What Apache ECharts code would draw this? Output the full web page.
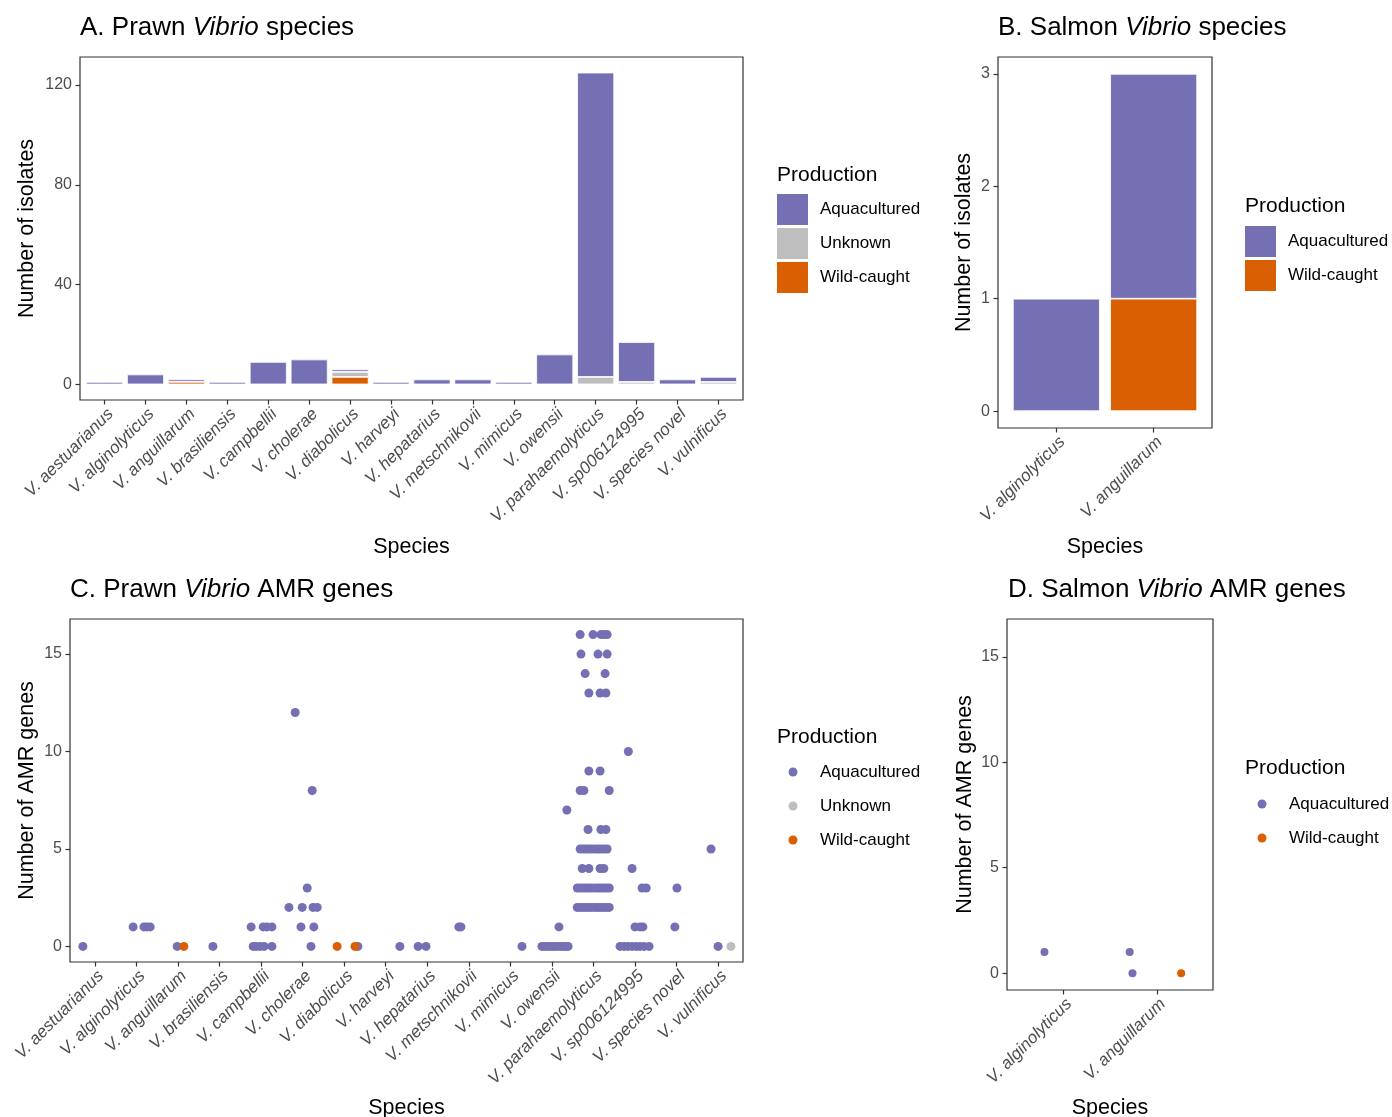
<!DOCTYPE html>
<html><head><meta charset="utf-8">
<script src="https://cdn.jsdelivr.net/npm/echarts@6/dist/echarts.min.js"></script>
<style>html,body{margin:0;padding:0;background:#fff}#c{width:1392px;height:1117px}</style>
</head><body><div id="c"></div>
<script>
// ---------- data ----------
const speciesPrawn = ['V. aestuarianus','V. alginolyticus','V. anguillarum','V. brasiliensis','V. campbellii','V. cholerae','V. diabolicus','V. harveyi','V. hepatarius','V. metschnikovii','V. mimicus','V. owensii','V. parahaemolyticus','V. sp006124995','V. species novel','V. vulnificus'];
const speciesSalmon = ['V. alginolyticus','V. anguillarum'];
const productionLevels = ['Aquacultured','Unknown','Wild-caught'];

// isolates per species (panel A, B)
const prawnAquacultured = [1,4,1,1,9,10,1,1,2,2,1,12,122,16,2,2];
const prawnUnknown      = [0,0,0,0,0,0,2,0,0,0,0,0,3,1,0,1];
const prawnWildCaught   = [0,0,1,0,0,0,3,0,0,0,0,0,0,0,0,0];
const salmonAquacultured = [1,2];
const salmonWildCaught   = [0,1];

const isolateTicks = [0,40,80,120];
const salmonIsolateTicks = [0,1,2,3];
const amrTicks = [0,5,10,15];

// AMR genes per isolate: [species index (1-based), horizontal jitter, number of AMR genes]
const prawnAmrAquacultured = [
 [1,-0.29,0],
 [2,-0.08,1],[2,0.18,1],[2,0.25,1],[2,0.33,1],
 [3,-0.02,0],
 [4,-0.16,0],
 [5,-0.24,1],[5,0.05,1],[5,0.14,1],[5,0.26,1],[5,-0.19,0],[5,-0.12,0],[5,-0.03,0],[5,0.07,0],[5,0.26,0],
 [6,-0.18,12],[6,0.23,8],[6,0.11,3],[6,-0.33,2],[6,-0.01,2],[6,0.25,2],[6,0.35,2],[6,-0.04,1],[6,0.27,1],[6,0.20,0],
 [7,0.33,0],
 [8,0.34,0],
 [9,-0.22,0],[9,-0.03,0],
 [10,-0.24,1],[10,-0.19,1],
 [11,0.28,0],
 [12,0.36,7],[12,0.17,1],[12,-0.24,0],[12,-0.17,0],[12,-0.09,0],[12,-0.02,0],[12,0.05,0],[12,0.12,0],[12,0.20,0],[12,0.27,0],[12,0.34,0],[12,0.39,0],
 [13,-0.32,16],[13,-0.01,16],[13,0.18,16],[13,0.26,16],[13,0.33,16],
 [13,-0.30,15],[13,0.11,15],[13,0.33,15],
 [13,-0.20,14],[13,0.28,14],
 [13,-0.11,13],[13,0.16,13],[13,0.30,13],
 [13,-0.11,9],[13,0.16,9],
 [13,-0.32,8],[13,-0.23,8],[13,0.38,8],
 [13,-0.13,6],[13,0.18,6],[13,0.30,6],
 [13,-0.32,5],[13,-0.25,5],[13,-0.18,5],[13,-0.11,5],[13,-0.04,5],[13,0.04,5],[13,0.11,5],[13,0.18,5],[13,0.26,5],[13,0.33,5],
 [13,-0.27,4],[13,-0.11,4],[13,0.16,4],[13,0.25,4],
 [13,-0.39,3],[13,-0.32,3],[13,-0.25,3],[13,-0.18,3],[13,-0.11,3],[13,-0.04,3],[13,0.04,3],[13,0.11,3],[13,0.18,3],[13,0.25,3],[13,0.32,3],[13,0.38,3],
 [13,-0.39,2],[13,-0.32,2],[13,-0.25,2],[13,-0.18,2],[13,-0.11,2],[13,-0.04,2],[13,0.04,2],[13,0.11,2],[13,0.18,2],[13,0.25,2],[13,0.32,2],[13,0.38,2],
 [14,-0.16,10],[14,-0.07,4],[14,0.17,3],[14,0.27,3],[14,0.00,1],[14,0.12,1],[14,0.19,1],
 [14,-0.36,0],[14,-0.26,0],[14,-0.17,0],[14,-0.07,0],[14,0.03,0],[14,0.12,0],[14,0.22,0],[14,0.34,0],
 [15,0.01,3],[15,-0.04,1],
 [16,-0.17,5],[16,0.00,0]
];
const prawnAmrUnknown = [[16,0.31,0]];
const prawnAmrWildCaught = [[3,0.14,0],[7,-0.17,0],[7,0.26,0]];

const salmonAmrAquacultured = [[1,-0.20,1],[2,-0.29,1],[2,-0.26,0]];
const salmonAmrWildCaught = [[2,0.26,0]];

// ---------- styling ----------
const FONT = '"Liberation Sans", Arial, Helvetica, sans-serif';
const COLORS = {'Aquacultured':'#7570B3','Unknown':'#BEBEBE','Wild-caught':'#D95F02'};
const AXIS_COL = '#333333';
const LABEL_COL = '#4D4D4D';

function xAxisFor(gridIndex, names, nameGap) {
  const idx = names.map((_, i) => i + 1);
  return {
    gridIndex, type:'value', min:0.4, max:names.length + 0.6,
    axisLine:{show:false, onZero:false}, splitLine:{show:false},
    axisTick:{show:true, customValues:idx, length:4.5, lineStyle:{color:AXIS_COL, width:1.2}},
    axisLabel:{customValues:idx, formatter:v => names[Math.round(v) - 1] || '', rotate:45,
      align:'right', verticalAlign:'top',
      fontStyle:'italic', fontSize:17, color:LABEL_COL, fontFamily:FONT, margin:5.5},
    name:'Species', nameLocation:'middle', nameGap,
    nameTextStyle:{fontSize:21.5, color:'#000', fontFamily:FONT}
  };
}
function yAxisFor(gridIndex, min, max, ticks, name, nameGap) {
  return {
    gridIndex, type:'value', min, max,
    axisLine:{show:false, onZero:false}, splitLine:{show:false},
    axisTick:{show:true, customValues:ticks, length:4.5, lineStyle:{color:AXIS_COL, width:1.2}},
    axisLabel:{customValues:ticks, fontSize:16, color:LABEL_COL, fontFamily:FONT, margin:8},
    name, nameLocation:'middle', nameGap, nameRotate:90,
    nameTextStyle:{fontSize:21.5, color:'#000', fontFamily:FONT}
  };
}
const gridBase = {show:true, borderColor:AXIS_COL, borderWidth:1.2, backgroundColor:'#fff',
  containLabel:false, outerBoundsMode:'none'};

// bar data as [count, species index] so that the count dimension is the stacked one
function barData(values) {
  return values.map((v, i) => v === 0
    ? {value:[0, i + 1], itemStyle:{borderWidth:0, opacity:0}}
    : {value:[v, i + 1]});
}
function barSeries(name, values, axis, stack, width) {
  return {
    type:'bar', name, stack, xAxisIndex:axis, yAxisIndex:axis, barWidth:width,
    encode:{x:1, y:0},
    itemStyle:{color:COLORS[name], borderColor:'#ffffff', borderWidth:0.8},
    emphasis:{disabled:true},
    data:barData(values)
  };
}
function pointSeries(name, points, axis, size) {
  return {
    type:'scatter', name, xAxisIndex:axis, yAxisIndex:axis, symbol:'circle', symbolSize:size,
    itemStyle:{color:COLORS[name], opacity:1}, emphasis:{disabled:true},
    data:points.map(p => [p[0] + p[1], p[2]])
  };
}
function titleFor(prefix, rest, left, top) {
  return {
    text:prefix + ' {i|Vibrio} ' + rest, left, top, padding:0,
    textStyle:{fontSize:26, fontWeight:'normal', color:'#000', fontFamily:FONT,
      rich:{i:{fontStyle:'italic', fontSize:26, fontFamily:FONT, color:'#000'}}}
  };
}
function legendFor(names, icon, left, top, size, gap) {
  return {
    orient:'vertical', left, top, padding:0, itemWidth:size, itemHeight:size, itemGap:gap,
    selectedMode:false,
    itemStyle:{borderWidth:0},
    data:names.map(n => ({name:n, icon})),
    textStyle:{fontSize:17, color:'#000', fontFamily:FONT, lineHeight:20, padding:[0,0,0, icon === 'rect' ? 7 : 17.5]}
  };
}
function legendTitle(x, y) {
  return {type:'text', x, y, style:{text:'Production', fontSize:21, fill:'#000', fontFamily:FONT, verticalAlign:'middle'}};
}

const option = {
  backgroundColor:'#ffffff',
  animation:false,
  title:[
    titleFor('A. Prawn', 'species', 80, 15),
    titleFor('B. Salmon', 'species', 998, 15),
    titleFor('C. Prawn', 'AMR genes', 70, 577),
    titleFor('D. Salmon', 'AMR genes', 1008, 577)
  ],
  grid:[
    Object.assign({left:80, top:57, width:663, height:343}, gridBase),
    Object.assign({left:998, top:57, width:214, height:371}, gridBase),
    Object.assign({left:70, top:619, width:673, height:343}, gridBase),
    Object.assign({left:1007, top:619, width:206, height:371}, gridBase)
  ],
  xAxis:[
    xAxisFor(0, speciesPrawn, 136),
    xAxisFor(1, speciesSalmon, 108),
    xAxisFor(2, speciesPrawn, 135),
    xAxisFor(3, speciesSalmon, 107)
  ],
  yAxis:[
    yAxisFor(0, -6.25, 131.25, isolateTicks, 'Number of isolates', 42),
    yAxisFor(1, -0.15, 3.15, salmonIsolateTicks, 'Number of isolates', 23),
    yAxisFor(2, -0.8, 16.8, amrTicks, 'Number of AMR genes', 32),
    yAxisFor(3, -0.8, 16.8, amrTicks, 'Number of AMR genes', 31)
  ],
  legend:[
    legendFor(productionLevels, 'rect', 777, 194, 31, 3),
    legendFor(['Aquacultured','Wild-caught'], 'rect', 1245, 226, 31, 3),
    legendFor(productionLevels, 'circle', 788.5, 762, 9, 14),
    legendFor(['Aquacultured','Wild-caught'], 'circle', 1257.5, 794, 9, 14)
  ],
  graphic:[
    legendTitle(777, 175), legendTitle(1245, 206), legendTitle(777, 737), legendTitle(1245, 768)
  ],
  series:[
    barSeries('Wild-caught', prawnWildCaught, 0, 'prawn', 37),
    barSeries('Unknown', prawnUnknown, 0, 'prawn', 37),
    barSeries('Aquacultured', prawnAquacultured, 0, 'prawn', 37),
    barSeries('Wild-caught', salmonWildCaught, 1, 'salmon', 87),
    barSeries('Aquacultured', salmonAquacultured, 1, 'salmon', 87),
    pointSeries('Aquacultured', prawnAmrAquacultured, 2, 9),
    pointSeries('Unknown', prawnAmrUnknown, 2, 9),
    pointSeries('Wild-caught', prawnAmrWildCaught, 2, 9),
    pointSeries('Aquacultured', salmonAmrAquacultured, 3, 8),
    pointSeries('Wild-caught', salmonAmrWildCaught, 3, 8)
  ]
};
const chart = echarts.init(document.getElementById('c'), null, {renderer:'canvas'});
chart.setOption(option);
</script></body></html>
